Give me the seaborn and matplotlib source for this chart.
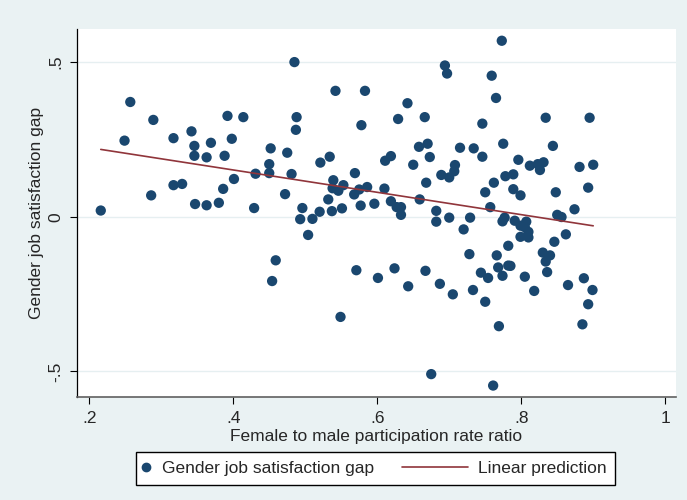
"""
Gender job satisfaction gap vs female to male participation rate ratio.
"""

import matplotlib
matplotlib.use("Agg")
import matplotlib.pyplot as plt
from matplotlib.legend_handler import HandlerLine2D
from matplotlib.lines import Line2D
import numpy as np
import pandas as pd
import seaborn as sns

# values
participation_ratio = [
    0.216, 0.249, 0.257, 0.286, 0.289, 0.317, 0.317, 0.329, 0.342, 0.346,
    0.346, 0.347, 0.363, 0.363, 0.369, 0.380, 0.386, 0.388, 0.392, 0.398,
    0.401, 0.414, 0.429, 0.431, 0.450, 0.450, 0.452, 0.454, 0.459, 0.472,
    0.475, 0.481, 0.485, 0.487, 0.488, 0.493, 0.496, 0.504, 0.510, 0.520,
    0.521, 0.532, 0.534, 0.537, 0.538, 0.539, 0.542, 0.546, 0.549, 0.551,
    0.553, 0.568, 0.569, 0.571, 0.575, 0.577, 0.578, 0.583, 0.586, 0.596,
    0.601, 0.610, 0.611, 0.619, 0.619, 0.624, 0.627, 0.629, 0.633, 0.633,
    0.642, 0.643, 0.650, 0.658, 0.659, 0.666, 0.667, 0.668, 0.670, 0.673,
    0.675, 0.682, 0.682, 0.687, 0.689, 0.694, 0.697, 0.700, 0.700, 0.705,
    0.707, 0.708, 0.715, 0.720, 0.728, 0.729, 0.733, 0.734, 0.744, 0.746,
    0.746, 0.750, 0.750, 0.754, 0.757, 0.759, 0.761, 0.762, 0.765, 0.766,
    0.768, 0.769, 0.773, 0.774, 0.774, 0.775, 0.777, 0.778, 0.782, 0.782,
    0.785, 0.789, 0.789, 0.791, 0.796, 0.799, 0.799, 0.799, 0.805, 0.805,
    0.807, 0.810, 0.810, 0.812, 0.818, 0.823, 0.826, 0.830, 0.831, 0.834,
    0.834, 0.836, 0.840, 0.844, 0.846, 0.848, 0.850, 0.856, 0.862, 0.865,
    0.874, 0.881, 0.885, 0.887, 0.893, 0.893, 0.895, 0.899, 0.900,
]
satisfaction_gap = [
    0.020, 0.246, 0.371, 0.069, 0.313, 0.254, 0.102, 0.106, 0.276, 0.229,
    0.197, 0.041, 0.192, 0.037, 0.239, 0.045, 0.090, 0.197, 0.326, 0.252,
    0.122, 0.322, 0.028, 0.139, 0.170, 0.141, 0.221, -0.208, -0.141, 0.073,
    0.207, 0.138, 0.500, 0.281, 0.322, -0.008, 0.028, -0.059, -0.007, 0.016,
    0.175, 0.056, 0.194, 0.018, 0.092, 0.118, 0.407, 0.084, -0.324, 0.027,
    0.102, 0.072, 0.141, -0.173, 0.088, 0.036, 0.296, 0.407, 0.096, 0.042,
    -0.198, 0.091, 0.181, 0.196, 0.050, -0.167, 0.031, 0.316, 0.031, 0.006,
    0.367, -0.225, 0.168, 0.226, 0.056, 0.322, -0.175, 0.110, 0.236, 0.193,
    -0.509, 0.019, -0.016, -0.217, 0.135, 0.489, 0.463, 0.127, -0.003, -0.251,
    0.147, 0.167, 0.223, -0.041, -0.121, -0.003, -0.237, 0.221, -0.181, 0.301,
    0.194, 0.079, -0.275, -0.198, 0.031, 0.456, -0.546, 0.110, 0.384, -0.125,
    -0.164, -0.354, 0.569, -0.015, -0.191, 0.236, -0.003, 0.131, -0.094, -0.158,
    -0.159, 0.137, 0.089, -0.013, 0.184, 0.069, -0.029, -0.065, -0.034, -0.194,
    -0.016, -0.049, -0.067, 0.165, -0.240, 0.170, 0.151, -0.116, 0.176, 0.320,
    -0.145, -0.179, -0.125, 0.229, -0.081, 0.079, 0.006, -0.001, -0.057, -0.221,
    0.024, 0.161, -0.348, -0.199, 0.094, -0.283, 0.320, -0.237, 0.168,
]
x_ticks = [0.2, 0.4, 0.6, 0.8, 1.0]
x_ticklabels = [".2", ".4", ".6", ".8", "1"]
y_ticks = [-0.5, 0, 0.5]
y_ticklabels = ["-.5", "0", ".5"]
legend_labels = ["Gender job satisfaction gap", "Linear prediction"]

MARKER_COLOR = "#1A476F"
LINE_COLOR = "#90353B"
OUTER_BG = "#EAF2F3"
GRID_COLOR = "#E6EFF1"
FS = 12.5


class LongLineHandler(HandlerLine2D):
    """Legend line that reaches past the (tiny) handle box, Stata style."""

    def __init__(self, left=40, right=3, **kw):
        super().__init__(**kw)
        self.left = left
        self.right = right

    def get_xdata(self, legend, xdescent, ydescent, width, height, fontsize):
        xdata, xmark = super().get_xdata(legend, xdescent, ydescent,
                                         width, height, fontsize)
        xdata = np.array([-xdescent - self.left, width - xdescent + self.right])
        return xdata, xmark


def main() -> None:
    df = pd.DataFrame({"ratio": participation_ratio, "gap": satisfaction_gap})

    sns.set_theme(style="ticks")
    plt.rcParams["font.family"] = ["Liberation Sans", "DejaVu Sans"]

    fig = plt.figure(figsize=(6.87, 5.0), dpi=100, facecolor=OUTER_BG)
    ax = fig.add_axes([0.1121, 0.206, 0.8719, 0.736])
    ax.set_facecolor("white")

    for yv in y_ticks:
        ax.axhline(yv, color=GRID_COLOR, lw=1.0, zorder=0)

    sns.scatterplot(data=df, x="ratio", y="gap", ax=ax, s=55,
                    color=MARKER_COLOR, edgecolor="none", zorder=3)
    sns.regplot(data=df, x="ratio", y="gap", ax=ax, scatter=False, ci=None,
                color=LINE_COLOR, line_kws={"lw": 1.2, "zorder": 4})

    ax.set_xlim(0.183, 1.015)
    ax.set_ylim(-0.583, 0.607)
    ax.set_xticks(x_ticks)
    ax.set_xticklabels(x_ticklabels, fontsize=FS)
    ax.set_yticks(y_ticks)
    ax.set_yticklabels(y_ticklabels, fontsize=FS, rotation=90, va="center")
    ax.tick_params(axis="both", direction="out", length=5, width=0.8,
                   color="black", pad=5)
    ax.set_xlabel("Female to male participation rate ratio", fontsize=FS,
                  labelpad=2)
    ax.set_ylabel("Gender job satisfaction gap", fontsize=FS, labelpad=3)

    for side in ("top", "right"):
        ax.spines[side].set_visible(False)
    ax.spines["left"].set_color("black")
    ax.spines["left"].set_linewidth(0.9)
    ax.spines["bottom"].set_color("#606060")
    ax.spines["bottom"].set_linewidth(1.2)

    dot = Line2D([], [], marker="o", ls="none", color=MARKER_COLOR, markersize=6)
    fit = Line2D([], [], color=LINE_COLOR, lw=1.2)
    fig.legend([dot, fit], legend_labels,
               handler_map={fit: LongLineHandler(left=42, right=3.5)},
               loc="upper center", bbox_to_anchor=(0.5466, 0.096),
               borderaxespad=0, ncol=2, fontsize=FS, frameon=True,
               fancybox=False, edgecolor="black", framealpha=1,
               borderpad=0.5, handlelength=0.15, handletextpad=0.85,
               columnspacing=5.0)

    fig.savefig("out.png", dpi=100, facecolor=OUTER_BG)
    plt.close(fig)


if __name__ == "__main__":
    main()
